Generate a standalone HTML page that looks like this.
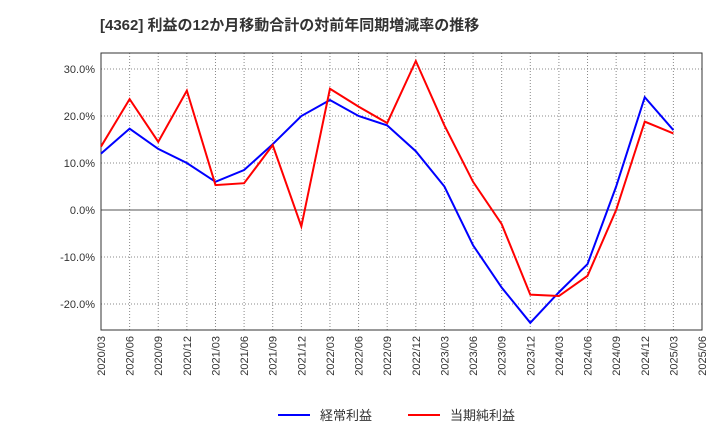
<!DOCTYPE html>
<html><head><meta charset="utf-8"><style>
body{margin:0;background:#fff;font-family:"Liberation Sans","Noto Sans CJK JP",sans-serif;}
svg text{font-family:"Liberation Sans","Noto Sans CJK JP",sans-serif;}
</style></head><body>
<svg id="c" width="720" height="440" xmlns="http://www.w3.org/2000/svg">
<text x="100" y="30" font-size="15" font-weight="bold" fill="#333">[4362]  利益の12か月移動合計の対前年同期増減率の推移</text>
<g id="grid"></g><g id="axes"></g><g id="series"></g>
<g>
<line x1="278" y1="415" x2="310" y2="415" stroke="#0000ff" stroke-width="2"/>
<text x="320" y="420" font-size="13" fill="#333">経常利益</text>
<line x1="408" y1="415" x2="440" y2="415" stroke="#ff0000" stroke-width="2"/>
<text x="450" y="420" font-size="13" fill="#333">当期純利益</text>
</g>
</svg>
<script>
const categories=["2020/03","2020/06","2020/09","2020/12","2021/03","2021/06","2021/09","2021/12","2022/03","2022/06","2022/09","2022/12","2023/03","2023/06","2023/09","2023/12","2024/03","2024/06","2024/09","2024/12","2025/03","2025/06"];
const ordinaryProfit=[12,17.3,13,10,6,8.5,14,20,23.4,20,18,12.5,5,-7.5,-16.5,-24,-17.5,-11.5,5,24,17];
const netProfit=[13.5,23.6,14.5,25.4,5.3,5.7,13.8,-3.5,25.8,22,18.5,31.7,18,6,-3,-18,-18.3,-14,0,18.8,16.3];
const yTicks=[-20,-10,0,10,20,30];
const X0=101,X1=702,Y0=53,Y1=330;
const x=i=>X0+(X1-X0)*i/(categories.length-1);
const y=v=>210-v*4.7;
const NS="http://www.w3.org/2000/svg";
function mk(t,a,p){const e=document.createElementNS(NS,t);for(const k in a)e.setAttribute(k,a[k]);p.appendChild(e);return e;}
const grid=document.getElementById('grid'),axes=document.getElementById('axes'),ser=document.getElementById('series');
const frame=mk('rect',{x:X0,y:Y0,width:X1-X0,height:Y1-Y0,fill:'none',stroke:'#333','stroke-width':1},axes);


categories.forEach((c,i)=>{
  const l=mk('line',{x1:x(i),x2:x(i),y1:Y0,y2:Y1,stroke:'#888','stroke-dasharray':'1,2'},grid);
  
  
  const t=mk('text',{x:0,y:0,'font-size':11,fill:'#333','text-anchor':'end',transform:`translate(${x(i)+4},${Y1+6}) rotate(-90)`},axes);
  t.textContent=c;
  
  
});
yTicks.forEach(v=>{
  const l=mk('line',{x1:X0,x2:X1,y1:y(v),y2:y(v),stroke:v===0?'#555':'#888','stroke-dasharray':v===0?'':'1,2'},grid);
  
  
  const t=mk('text',{x:X0-6,y:y(v)+4,'font-size':11,fill:'#333','text-anchor':'end'},axes);
  t.textContent=v.toFixed(1)+'%';
  
  
});
function line(d,col,name){
  const p=mk('polyline',{points:d.map((v,i)=>x(i)+','+y(v)).join(' '),fill:'none',stroke:col,'stroke-width':2},ser);
  
  
}
line(ordinaryProfit,'#0000ff','ordinary-profit-line');
line(netProfit,'#ff0000','net-profit-line');
</script>
</body></html>
